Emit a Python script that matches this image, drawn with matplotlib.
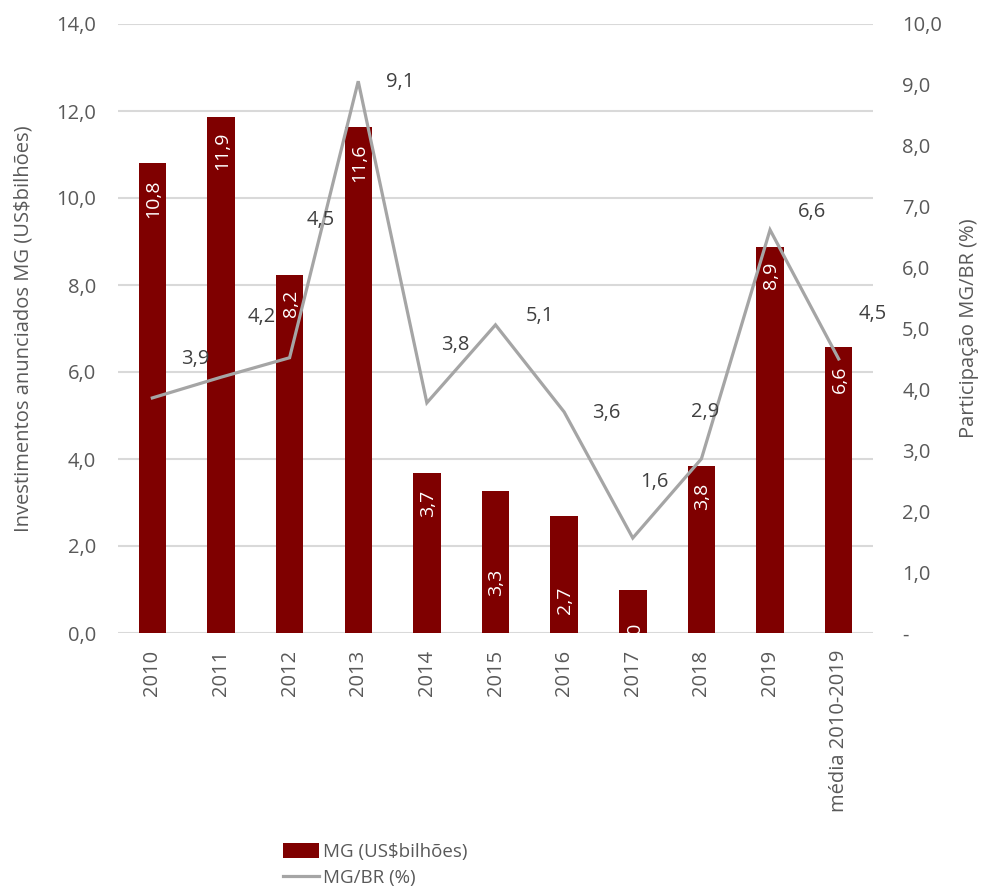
import numpy as np
import matplotlib
matplotlib.use("Agg")
import matplotlib.pyplot as plt
from matplotlib.ticker import FuncFormatter, MultipleLocator

plt.rcParams['font.family'] = ['Open Sans', 'DejaVu Sans']

categories = ['2010', '2011', '2012', '2013', '2014', '2015', '2016', '2017',
              '2018', '2019', 'média 2010-2019']
mg_bilhoes = [10.8, 11.86, 8.23, 11.63, 3.68, 3.26, 2.69, 0.99, 3.84, 8.87, 6.57]
mg_br_pct = [3.86, 4.2, 4.52, 9.06, 3.78, 5.06, 3.63, 1.56, 2.86, 6.62, 4.5]

# label placement (pixels) - bar labels measured down from bar top
bar_lbl_drop = [16, 15, 15, 16, 17, 78, 71, 32, 17, 15, 18]
line_lbl_off = [(43, 39), (41, 60), (31, 138), (42, -1), (28, 58), (44, 9),
                (42, -1), (22, 56), (4, 47), (42, 18), (34, 45)]

bar_color = '#7F0000'
line_color = '#A5A5A5'
grid_color = '#D9D9D9'
tick_color = '#595959'


def fmt(v):
    return f'{v:.1f}'.replace('.', ',')


fig = plt.figure(figsize=(9.84, 8.93), dpi=100)
ax = fig.add_axes([118 / 984, 1 - 633 / 893, (873 - 118) / 984, (633 - 24) / 893])
ax2 = ax.twinx()

x = np.arange(len(categories))
bars = ax.bar(x, mg_bilhoes, width=0.4, color=bar_color, zorder=2,
              label='MG (US$bilhões)')
line, = ax2.plot(x, mg_br_pct, color=line_color, lw=2.3, zorder=3,
                 solid_joinstyle='miter', label='MG/BR (%)')

ax.set_xlim(-0.5, len(categories) - 0.5)
ax.set_ylim(0, 14)
ax2.set_ylim(0, 10)
ax.yaxis.set_major_locator(MultipleLocator(2))
ax2.yaxis.set_major_locator(MultipleLocator(1))
ax.yaxis.set_major_formatter(FuncFormatter(lambda v, p: fmt(v)))
ax2.yaxis.set_major_formatter(FuncFormatter(lambda v, p: '-' if abs(v) < 1e-9 else fmt(v)))

ax.grid(axis='y', color=grid_color, lw=1.5, zorder=0)
ax.set_axisbelow(True)
for a in (ax, ax2):
    for s in a.spines.values():
        s.set_visible(False)
    a.tick_params(length=0, labelsize=14.5, labelcolor=tick_color)
ax.tick_params(axis='y', pad=16)
ax2.tick_params(axis='y', pad=21)
ax.set_xticks(x)
ax.set_xticklabels(categories, rotation=90, va='top')
ax.tick_params(axis='x', pad=12)

ax.set_ylabel('Investimentos anunciados MG (US$bilhões)', fontsize=14.5,
              color=tick_color, labelpad=16)
ax2.set_ylabel('Participação MG/BR (%)', fontsize=14.5, color=tick_color,
               labelpad=12)

# bar labels inside bars, rotated
for xi, v, d in zip(x, mg_bilhoes, bar_lbl_drop):
    ax.annotate(fmt(v), (xi, v), xytext=(1, -d), textcoords='offset pixels',
                rotation=90, ha='center', va='top', color='white', fontsize=14,
                zorder=4, annotation_clip=True, clip_on=True)

# line labels
for xi, v, (dx, dy) in zip(x, mg_br_pct, line_lbl_off):
    ax2.annotate(fmt(v), (xi, v), xytext=(dx, dy), textcoords='offset pixels',
                 ha='center', va='center', color='#404040', fontsize=14.5, zorder=5)

fig.legend(handles=[bars, line], loc='upper left',
           bbox_to_anchor=(268 / 984, 1 - 828 / 893), frameon=False,
           fontsize=13.5, labelcolor=tick_color, handlelength=1.9,
           handleheight=0.85, handletextpad=0.25, labelspacing=0.45,
           borderpad=0.3)

fig.savefig('out.png', dpi=100)
